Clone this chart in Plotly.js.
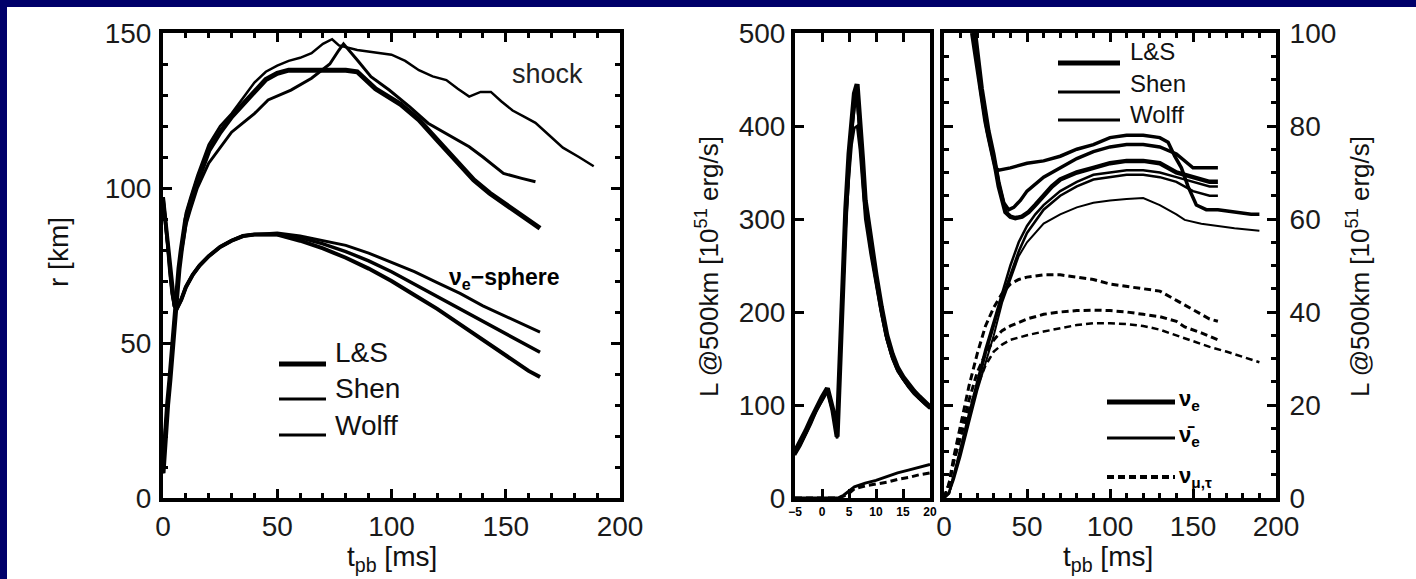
<!DOCTYPE html>
<html><head><meta charset="utf-8">
<script src="https://cdn.plot.ly/plotly-3.0.1.min.js"></script>
<style>html,body{margin:0;padding:0;background:#fff}#chart{width:1416px;height:579px}</style>
</head><body><div id="chart"></div>
<script>
// ---------- Left panel: radii [km] vs t_pb [ms] ----------
const tShockLS   = [0,1,2,3,4,5,6,7,8,10,12,15,20,25,30,35,40,45,50,55,60,70,80,85,93,104,112,120,128,136,143,153,165];
const rShockLS   = [8,22,30,38,48,57,66,74,80,90,95,102,112,118,123,127,131,135,137,138,138,138,138,137.5,132,127,122,115.5,109,102.6,98.3,93,87];
const tShockShen = [0,1,2,3,4,5,6,7,8,10,12,15,20,25,30,35,40,45,50,55,60,65,70,74,77,85,95,100,106,112,118,124,129,134,139,143.5,148,153,158,163,169,175,182,188.5];
const rShockShen = [8,22,30,38,48,57,66,74,80,92,97,104,114,120,124,129,134,137.5,139.5,141,142,143.5,146.5,148,146,144.5,143.5,143,141,138,136,134.8,132,129.5,131,131,128,125,123,121,117,113,110,107];
const tShockWolff= [0,1,2,3,4,5,6,7,8,10,12,15,20,25,30,35,40,46,56,65,73,77,79,85,91,99,108,116,124,134,140,149,157,163];
const rShockWolff= [8,22,30,38,48,57,66,74,79,88,93,100,108,113,118,121,124,128.4,131.6,135.4,140,144.5,146.5,141.3,135.9,131.6,126.2,120.9,117.6,113.3,110,104.7,103.1,102];

const tNuLS   = [0,1,2,3,4,5,6,8,10,13,16,20,25,30,35,40,50,60,70,80,90,100,110,120,130,140,150,160,165];
const rNuLS   = [97,90,82,73,66,62,61,64,68,72,75,78,81,83,84.5,85,85,83,80.5,77.5,74,70,65.5,61,56,51,46,41,39];
const tNuShen = [0,1,2,3,4,5,6,8,10,13,16,20,25,30,35,40,50,60,70,80,90,100,110,120,130,140,150,160,165];
const rNuShen = [97,90,82,73,66,62,61,64,68,72,75,78,81,83,84.5,85,85.5,84.5,83,81.5,79,76,73,69.5,66,62,58.5,55,53.5];
const tNuWolff= [0,1,2,3,4,5,6,8,10,13,16,20,25,30,35,40,50,60,70,80,90,100,110,120,130,140,150,160,165];
const rNuWolff= [97,90,82,73,66,62,61,64,68,72,75,78,81,83,84.5,85,85,84,82,79.5,76.5,73,69,65,61,57,53,49,47];

// ---------- Middle panel: L [10^51 erg/s], early times ----------
const tBurstLS   = [-5,-4,-3,-2,-1,0,1,2,2.8,3.3,3.8,4.4,5,5.5,6,6.5,7,7.5,8,9,10,11,12,13,14,15,16,17,18,19,20];
const lBurstLS   = [50,60,72,85,98,108,118,95,66,150,230,310,370,410,435,445,410,365,320,275,240,205,175,155,140,130,122,115,109,103,98];
const tBurstShen = [-5,-4,-3,-2,-1,0,1,2,2.8,3.3,3.8,4.4,5,5.5,6,6.5,7,7.5,8,9,10,11,12,13,14,15,16,17,18,19,20];
const lBurstShen = [46,56,68,80,94,104,114,92,64,140,215,290,345,380,398,400,375,340,300,262,228,197,170,150,136,127,119,112,106,101,96];
const tBurstWolff= [-5,-4,-3,-2,-1,0,1,2,2.8,3.3,3.8,4.4,5,5.5,6,6.5,7,7.5,8,9,10,11,12,13,14,15,16,17,18,19,20];
const lBurstWolff= [48,58,70,83,96,106,116,94,65,145,222,300,358,395,420,428,395,355,312,268,234,201,172,152,138,128,120,113,107,102,97];
const tEarlyAnti = [-5,0,3,4,5,6,8,10,12,14,16,18,20];
const lEarlyAnti = [0,0,0,3,8,12,16,19,23,27,30,33,36];
const tEarlyMu   = [-5,0,3,4,5,6,8,10,12,14,16,18,20];
const lEarlyMu   = [0,0,0,2,5,10,13,15,17,20,22,25,27];

// ---------- Right panel: L [10^51 erg/s] ----------
const tNueLS    = [17,19,21,23,25,27,29,31,33,35,37,40,43,47,51,55,60,65,70,80,90,100,110,120,130,140,150,160,165];
const lNueLS    = [100,95,90,85,81,77.5,74.5,71,67,64,61.5,60.5,60.2,60.5,61.5,63,65,67,68.5,70,71,72,72.5,72.5,72,70,69,68,68];
const tNueShen  = [18,22,26,29,31,33,40,50,60,70,80,90,100,110,120,130,135,139,143,147,152,158,165,175,185,190];
const lNueShen  = [100,88,79,74,71,70.5,71,72,72.5,73.5,75,76,77.5,78,78,77.5,76.5,73.5,71,67,63,62,62,61.5,61,61];
const tNueWolff = [19,23,27,30,33,36,39,42,46,50,60,70,80,90,100,110,120,130,140,150,160,165];
const lNueWolff = [100,88,79,74,68,63.5,62,62.5,64,66,69,71,73,74.5,75.5,76,76,75.5,74,71,71,71];

const tAntiLS   = [0,3,6,10,15,20,25,30,35,40,45,50,55,60,70,80,90,100,110,120,130,140,150,160,165];
const lAntiLS   = [0,1,5,11,18,25,32,38,44,50,55,58.5,61,63,66,68,69.5,70,70.5,70.5,70,69,68,67,67];
const tAntiShen = [0,3,6,10,15,20,25,30,35,40,45,50,60,70,80,90,100,110,120,130,140,145,155,165,175,190];
const lAntiShen = [0,1,4,9,16,23,29,35,42,47,52,55,59,61,62.5,63.5,64,64.3,64.5,63,61,59.8,59,58.5,58,57.5];
const tAntiWolff= [0,3,6,10,15,20,25,30,35,40,45,50,60,70,80,90,100,110,120,130,140,150,160,165];
const lAntiWolff= [0,1,5,10,17,24,31,37,43,48,53,57,62,65,67,68.5,69,69.5,69.5,69,68,66,65,65];

const tMuLS     = [0,3,6,10,15,20,25,30,35,40,45,50,60,70,80,90,100,110,120,130,140,150,160,165];
const lMuLS     = [0,3,9,16,24,31,37,41,44,46,47,47.5,48,48,47.5,47,46,45.5,45,44.5,42.5,40.5,38.5,38];
const tMuWolff  = [0,3,6,10,15,20,25,30,35,40,50,60,70,80,90,100,110,120,130,140,145,155,165];
const lMuWolff  = [0,3,8,14,21,27,31,34,36,37,38.5,39.5,40,40.3,40.4,40.3,40,39.5,39,38,36.8,35.5,34];
const tMuShen   = [0,3,6,10,15,20,25,30,35,40,50,60,70,80,90,100,110,120,130,140,150,160,170,180,190];
const lMuShen   = [0,3,8,13,19,24,28.5,31.5,33,34,35,35.8,36.5,37.2,37.6,37.6,37.4,37,36.2,35,33.8,32.5,31.5,30.3,29.2];

// tick labels
const xTicksMain = [0,50,100,150,200];
const xTicksEarly = [-5,0,5,10,15,20];
const yTicksR = [0,50,100,150];
const yTicksL = [0,100,200,300,400,500];
const yTicksRight = [0,20,40,60,80,100];

// ---------- build ----------
const W = 1416, H = 579;
const px = x => x / W, py = y => 1 - y / H;
const K = '#000';
function ln(x, y, xa, ya, w, dash) {
  return {x, y, xaxis: xa, yaxis: ya, type: 'scatter', mode: 'lines',
          line: {color: K, width: w, dash: dash || 'solid'}, showlegend: false, hoverinfo: 'skip'};
}
const D = '7px,4px';
const traces = [
  ln(tShockShen, rShockShen, 'x', 'y', 2.5),
  ln(tShockWolff, rShockWolff, 'x', 'y', 3),
  ln(tShockLS, rShockLS, 'x', 'y', 5),
  ln(tNuShen, rNuShen, 'x', 'y', 3),
  ln(tNuWolff, rNuWolff, 'x', 'y', 3.5),
  ln(tNuLS, rNuLS, 'x', 'y', 4),

  ln(tBurstLS, lBurstLS, 'x2', 'y2', 5),
  ln(tBurstWolff, lBurstWolff, 'x2', 'y2', 3),
  ln(tBurstShen, lBurstShen, 'x2', 'y2', 2.5),
  ln(tEarlyAnti, lEarlyAnti, 'x2', 'y2', 3),
  ln(tEarlyMu, lEarlyMu, 'x2', 'y2', 3, D),

  ln(tNueLS, lNueLS, 'x3', 'y3', 4.5),
  ln(tNueShen, lNueShen, 'x3', 'y3', 3.5),
  ln(tNueWolff, lNueWolff, 'x3', 'y3', 3.5),
  ln(tAntiLS, lAntiLS, 'x3', 'y3', 2.5),
  ln(tAntiShen, lAntiShen, 'x3', 'y3', 2),
  ln(tAntiWolff, lAntiWolff, 'x3', 'y3', 2.5),
  ln(tMuLS, lMuLS, 'x3', 'y3', 3, D),
  ln(tMuWolff, lMuWolff, 'x3', 'y3', 3, D),
  ln(tMuShen, lMuShen, 'x3', 'y3', 2.5, D)
];

const tickFont = {family: 'Liberation Sans, Arial, sans-serif', size: 28, color: '#1a1a1a'};
const yDom = [py(498), py(33)];
function axis(extra) {
  return Object.assign({
    showgrid: false, zeroline: false, showline: true, linecolor: K, linewidth: 4,
    ticks: 'inside', ticklen: 9, tickwidth: 3, tickcolor: K, mirror: 'ticks',
    tickfont: tickFont, fixedrange: true
  }, extra);
}
const layout = {
  width: W, height: H, margin: {l: 0, r: 0, t: 0, b: 0},
  paper_bgcolor: '#00006a', plot_bgcolor: 'rgba(0,0,0,0)', showlegend: false,
  xaxis: axis({domain: [px(163), px(620)], range: [0, 200], tickvals: xTicksMain, anchor: 'y',
               minor: {dtick: 10, ticks: 'inside', ticklen: 5, tickwidth: 3, tickcolor: K}, ticklabelstandoff: 0}),
  yaxis: axis({domain: yDom, range: [0, 150], tickvals: yTicksR, anchor: 'x',
               minor: {dtick: 10, ticks: 'inside', ticklen: 5, tickwidth: 3, tickcolor: K}, ticklabelstandoff: 2}),
  xaxis2: axis({domain: [px(795), px(930)], range: [-5, 20], tickvals: xTicksEarly, anchor: 'y2',
                tickfont: {family: 'Liberation Sans, Arial, sans-serif', size: 12, color: K, weight: 'bold'}, ticklabelstandoff: 0}),
  yaxis2: axis({domain: yDom, range: [0, 500], tickvals: yTicksL, anchor: 'x2', mirror: true, ticklabelstandoff: 0}),
  xaxis3: axis({domain: [px(944), px(1276)], range: [0, 200], tickvals: xTicksMain, anchor: 'y3',
                minor: {dtick: 10, ticks: 'inside', ticklen: 5, tickwidth: 3, tickcolor: K}, ticklabelstandoff: 0}),
  yaxis3: axis({domain: yDom, range: [0, 100], tickvals: yTicksRight, anchor: 'x3', side: 'right',
                minor: {dtick: 5, ticks: 'inside', ticklen: 5, tickwidth: 3, tickcolor: K}, ticklabelstandoff: 4}),
  shapes: [
    {type: 'rect', xref: 'paper', yref: 'paper', x0: px(7), x1: 1, y0: 0, y1: py(7), fillcolor: '#fff', line: {width: 0}, layer: 'below'},
    // legend keys, left panel
    {type: 'line', xref: 'paper', yref: 'paper', x0: px(279), x1: px(326), y0: py(364), y1: py(364), line: {color: K, width: 5}},
    {type: 'line', xref: 'paper', yref: 'paper', x0: px(279), x1: px(326), y0: py(399), y1: py(399), line: {color: K, width: 3}},
    {type: 'line', xref: 'paper', yref: 'paper', x0: px(279), x1: px(326), y0: py(435), y1: py(435), line: {color: K, width: 3}},
    // legend keys, right panel (EOS)
    {type: 'line', xref: 'paper', yref: 'paper', x0: px(1058), x1: px(1120), y0: py(63), y1: py(63), line: {color: K, width: 5}},
    {type: 'line', xref: 'paper', yref: 'paper', x0: px(1058), x1: px(1120), y0: py(92), y1: py(92), line: {color: K, width: 3}},
    {type: 'line', xref: 'paper', yref: 'paper', x0: px(1058), x1: px(1120), y0: py(120), y1: py(120), line: {color: K, width: 3}},
    // legend keys, right panel (flavours)
    {type: 'line', xref: 'paper', yref: 'paper', x0: px(1107), x1: px(1175), y0: py(402), y1: py(402), line: {color: K, width: 5}},
    {type: 'line', xref: 'paper', yref: 'paper', x0: px(1107), x1: px(1175), y0: py(438), y1: py(438), line: {color: K, width: 3}},
    {type: 'line', xref: 'paper', yref: 'paper', x0: px(1107), x1: px(1175), y0: py(477), y1: py(477), line: {color: K, width: 4, dash: D}}
  ],
  annotations: []
};
const F = (s, extra) => Object.assign({family: 'Liberation Sans, Arial, sans-serif', size: s, color: '#111'}, extra || {});
function ann(text, x, y, opts) {
  layout.annotations.push(Object.assign({text, xref: 'paper', yref: 'paper', x: px(x), y: py(y),
    showarrow: false, xanchor: 'center', yanchor: 'middle', font: F(28)}, opts || {}));
}
ann('r [km]', 58, 252, {textangle: -90});
ann('t<sub>pb</sub> [ms]', 392, 558);
ann('t<sub>pb</sub> [ms]', 1108, 558);
ann('L @500km [10<sup>51</sup> erg/s]', 707, 267, {textangle: -90, font: F(26)});
ann('L @500km [10<sup>51</sup> erg/s]', 1358, 267, {textangle: -90, font: F(26)});
ann('shock', 547, 74, {font: F(27, {color: '#222'})});
ann('ν<sub>e</sub>−sphere', 505, 279, {font: F(23, {weight: 'bold', color: K})});
ann('L&amp;S', 333, 352, {xanchor: 'left', font: F(28)});
ann('Shen', 333, 388, {xanchor: 'left', font: F(28)});
ann('Wolff', 333, 425, {xanchor: 'left', font: F(28)});
ann('L&amp;S', 1128, 52, {xanchor: 'left', font: F(24)});
ann('Shen', 1128, 83, {xanchor: 'left', font: F(24)});
ann('Wolff', 1128, 114, {xanchor: 'left', font: F(24)});
ann('ν<sub>e</sub>', 1177, 400, {xanchor: 'left', font: F(22, {weight: 'bold', color: K})});
ann('ν̄<sub>e</sub>', 1177, 436, {xanchor: 'left', font: F(22, {weight: 'bold', color: K})});
ann('ν<sub>μ,τ</sub>', 1177, 477, {xanchor: 'left', font: F(22, {weight: 'bold', color: K})});

Plotly.newPlot('chart', traces, layout, {staticPlot: true, displayModeBar: false});
</script></body></html>
